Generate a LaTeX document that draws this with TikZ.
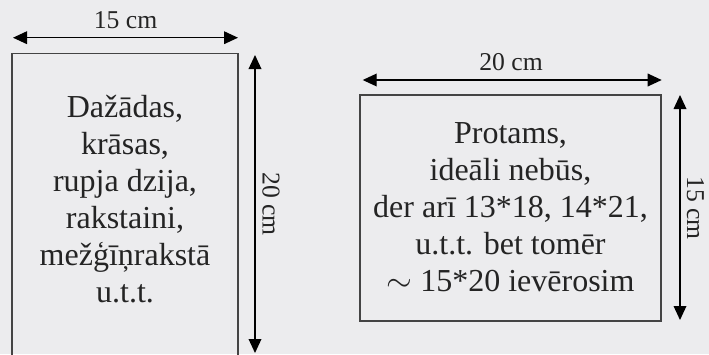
\documentclass[tikz,border=0pt]{standalone}
\usepackage{fontspec}
\setmainfont{Liberation Serif}
\usetikzlibrary{positioning,arrows.meta}
\definecolor{bggray}{RGB}{236,236,238}
\definecolor{framegray}{RGB}{68,68,68}
\definecolor{inkgray}{RGB}{36,36,36}

\begin{document}
\begin{tikzpicture}[x=0.75pt,y=-0.75pt]
\tikzstyle{every node}+=[inner sep=0pt]
\tikzstyle{sheet}=[draw=framegray, line width=1.1pt]
\tikzstyle{sheettext}=[text=inkgray, align=center, font=\fontsize{24}{27.75}\selectfont]
\tikzstyle{dimline}=[black, line width=1pt, {Triangle[length=10.5pt,width=9.5pt]}-{Triangle[length=10.5pt,width=9.5pt]}]
\tikzstyle{dimlabel}=[text=inkgray, font=\fontsize{19.25}{20}\selectfont]
\clip (0,0) rectangle (709,354);
\fill [bggray] (0,0) rectangle (709,354);
% portrait sheet 15 x 20
\node [sheet, minimum width=169.5pt, minimum height=227.25pt] (sheetA) at (125,205) {};
\node [sheettext] (textA) at (125,199) {Dažādas,\\krāsas,\\rupja dzija,\\rakstaini,\\mežģīņrakstā\\u.t.t.};
\coordinate (wA1) at (13,37.7);
\coordinate (wA2) at (238,37.7);
\coordinate (hA1) at (255,55);
\coordinate (hA2) at (255,353);
\draw [dimline] (wA1) -- (wA2);
\draw [dimline] (hA1) -- (hA2);
\node [dimlabel, anchor=south] (lblwA) at (125.5,29.3) {15 cm};
\node [dimlabel, anchor=south, rotate=-90] (lblhA) at (262,204) {20 cm};
% landscape sheet 20 x 15
\node [sheet, minimum width=225.75pt, minimum height=169.5pt] (sheetB) at (510.5,208) {};
\node [sheettext] (textB) at (510.5,207) {Protams,\\ideāli nebūs,\\der arī 13*18, 14*21,\\u.t.t. bet tomēr\\$\sim$ 15*20 ievērosim};
\coordinate (wB1) at (362.7,80);
\coordinate (wB2) at (661.7,80);
\coordinate (hB1) at (680,95);
\coordinate (hB2) at (680,320);
\draw [dimline] (wB1) -- (wB2);
\draw [dimline] (hB1) -- (hB2);
\node [dimlabel, anchor=south] (lblwB) at (511,71) {20 cm};
\node [dimlabel, anchor=south, rotate=-90] (lblhB) at (686.7,208) {15 cm};
\end{tikzpicture}
\end{document}
